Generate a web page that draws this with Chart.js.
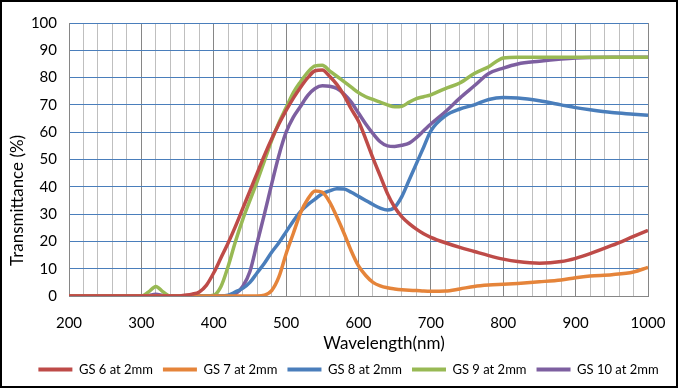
<!DOCTYPE html>
<html lang="en">
<head>
<meta charset="UTF-8">
<title>Transmittance of GS glass at 2mm</title>
<script src="https://cdn.jsdelivr.net/npm/chart.js"></script>
<style>
    body { margin: 0; background: #fff; }
    .frame { width: 678px; height: 388px; border: 2px solid #000; box-sizing: border-box; background: #fff; }
    canvas { display: block; }
</style>
</head>
<body>
<div class="frame"><canvas id="chart" width="674" height="384"></canvas></div>
<script>
// wavelength grid (nm), shared by all series
const wavelengths = [200, 250, 300, 310, 320, 330, 340, 350, 360, 370, 380, 390, 400, 410, 420, 430, 440, 450, 460, 470,
    480, 490, 500, 510, 520, 530, 540, 550, 560, 570, 580, 590, 600, 610, 620, 630, 640, 650, 660, 670,
    680, 690, 700, 720, 740, 760, 780, 800, 820, 850, 880, 900, 920, 950, 980, 1000];

const gs6 = [0, 0, 0, 0, 0, 0, 0, 0, 0.3, 0.7, 1.5, 4, 8.5, 14, 19.5, 25.5, 32, 38.5, 45, 51.5,
    57.5, 63, 68, 72.5, 76.5, 80, 82.5, 82.8, 80.5, 77.5, 73.5, 68.5, 64, 57.5, 50.5, 44, 37.5, 32.5, 29, 26.5,
    24.5, 22.8, 21.5, 19.5, 17.8, 16.3, 14.8, 13.5, 12.6, 12, 12.6, 13.8, 15.5, 18.5, 21.8, 24];

const gs7 = [0, 0, 0, 0, 0, 0, 0, 0, 0, 0, 0, 0, 0, 0, 0, 0, 0, 0, 0, 0.3,
    2, 7, 15.5, 23, 30.5, 35.5, 38.5, 38, 34.5, 29, 23, 16.5, 11, 7.5, 5, 3.7, 3, 2.6, 2.3, 2.1,
    2, 1.8, 1.7, 1.8, 2.6, 3.5, 4, 4.3, 4.6, 5.2, 5.9, 6.7, 7.3, 7.8, 8.8, 10.5];

const gs8 = [0, 0, 0, 0, 0, 0, 0, 0, 0, 0, 0, 0, 0, 0, 0.3, 1.5, 2.8, 5, 8.5, 12,
    16, 19.5, 23.5, 27.5, 31, 33.5, 35.5, 37.5, 38.5, 39.3, 39.2, 38, 36.5, 35, 33.5, 32.2, 31.5, 32.5, 36.5, 42.5,
    48.5, 54.5, 60.5, 66, 68.5, 70, 72, 72.7, 72.5, 71.5, 70, 69, 68.2, 67.2, 66.6, 66.2];

const gs9 = [0, 0, 0, 1.5, 3.5, 1.5, 0, 0, 0, 0, 0, 0, 0.3, 3.5, 11, 20, 28, 35, 42, 49.5,
    57, 63.5, 69, 74.5, 78.5, 82, 84.3, 84.5, 82.5, 80.5, 78.5, 76.5, 74.5, 73, 72, 71, 70, 69.3, 69.5, 71,
    72.3, 73, 73.7, 76, 78, 81.5, 84, 87.2, 87.5, 87.5, 87.5, 87.5, 87.5, 87.5, 87.5, 87.5];

const gs10 = [0, 0, 0, 0.2, 0.6, 0.2, 0, 0, 0, 0, 0, 0, 0, 0, 0, 0.8, 3.5, 9, 19.5, 30,
    41, 51.5, 60, 65.5, 69.5, 73.5, 76, 77, 76.8, 76, 74, 71, 67, 63, 59.5, 56.5, 55, 54.8, 55.2, 56,
    58, 60.5, 63, 67.5, 72.5, 77, 81.5, 83.5, 85, 86, 86.8, 87.2, 87.4, 87.5, 87.5, 87.5];

const seriesNames = ['GS 6 at 2mm', 'GS 7 at 2mm', 'GS 8 at 2mm', 'GS 9 at 2mm', 'GS 10 at 2mm'];
const seriesValues = [gs6, gs7, gs8, gs9, gs10];
const seriesColors = ['#BE4B48', '#E5843A', '#4A7EBB', '#98B954', '#7D5FA0'];

const font = 'Lato';

const datasets = seriesValues.map((vals, i) => ({
    label: seriesNames[i],
    data: wavelengths.map((w, j) => ({ x: w, y: vals[j] })),
    borderColor: seriesColors[i],
    backgroundColor: seriesColors[i],
    borderWidth: 3.5,
    pointRadius: 0,
    cubicInterpolationMode: 'monotone',
    fill: false
}));

// axis titles sit off-centre in the original, so draw them here
const axisTitles = {
    id: 'axisTitles',
    afterDraw(chart) {
        const { ctx, chartArea: a } = chart;
        ctx.save();
        ctx.fillStyle = '#000';
        ctx.font = '17px ' + font;
        ctx.textAlign = 'center';
        ctx.textBaseline = 'middle';
        ctx.fillText('Wavelength(nm)', a.left + a.width * 0.544, a.bottom + 48);
        ctx.translate(16, a.top + a.height * 0.65);
        ctx.rotate(-Math.PI / 2);
        ctx.fillText('Transmittance (%)', 0, 0);
        ctx.restore();
    }
};

new Chart(document.getElementById('chart'), {
    type: 'line',
    data: { datasets: datasets },
    plugins: [axisTitles],
    options: {
        responsive: false,
        animation: false,
        layout: { padding: { top: 20, left: 19, right: 0, bottom: 0 } },
        plugins: {
            tooltip: { enabled: false },
            legend: {
                position: 'bottom',
                labels: {
                    boxWidth: 34,
                    boxHeight: 4,
                    padding: 10,
                    color: '#000',
                    font: { family: font, size: 13 },
                    generateLabels: (chart) => Chart.defaults.plugins.legend.labels.generateLabels(chart).map(item => {
                        item.lineWidth = 0;
                        item.fillStyle = item.strokeStyle;
                        return item;
                    })
                }
            }
        },
        scales: {
            x: {
                type: 'linear',
                min: 200,
                max: 1000,
                afterFit: (scale) => { scale.height = 57; },
                ticks: {
                    stepSize: 20,
                    autoSkip: false,
                    maxRotation: 0,
                    padding: 10,
                    color: '#000',
                    font: { family: font, size: 15 },
                    callback: (v) => (v % 100 === 0 ? String(v) : '')
                },
                grid: {
                    drawTicks: true,
                    tickLength: 8,
                    tickColor: 'rgba(0,0,0,0)',
                    color: (ctx) => (ctx.tick && ctx.tick.value % 100 === 0 ? '#868686' : '#BFBFBF')
                },
                border: { color: '#868686' }
            },
            y: {
                min: 0,
                max: 100,
                afterFit: (scale) => { scale.width = 48; },
                ticks: {
                    stepSize: 10,
                    padding: 12,
                    color: '#000',
                    font: { family: font, size: 15 }
                },
                grid: {
                    drawTicks: false,
                    color: '#4A7EBB'
                },
                border: { color: '#868686' }
            },
            // empty right-hand spacer so the legend stays centred on the whole picture
            spacer: {
                position: 'right',
                afterFit: (scale) => { scale.width = 28; },
                ticks: { display: false },
                grid: { display: false },
                border: { display: false }
            }
        }
    }
});
</script>
</body>
</html>
